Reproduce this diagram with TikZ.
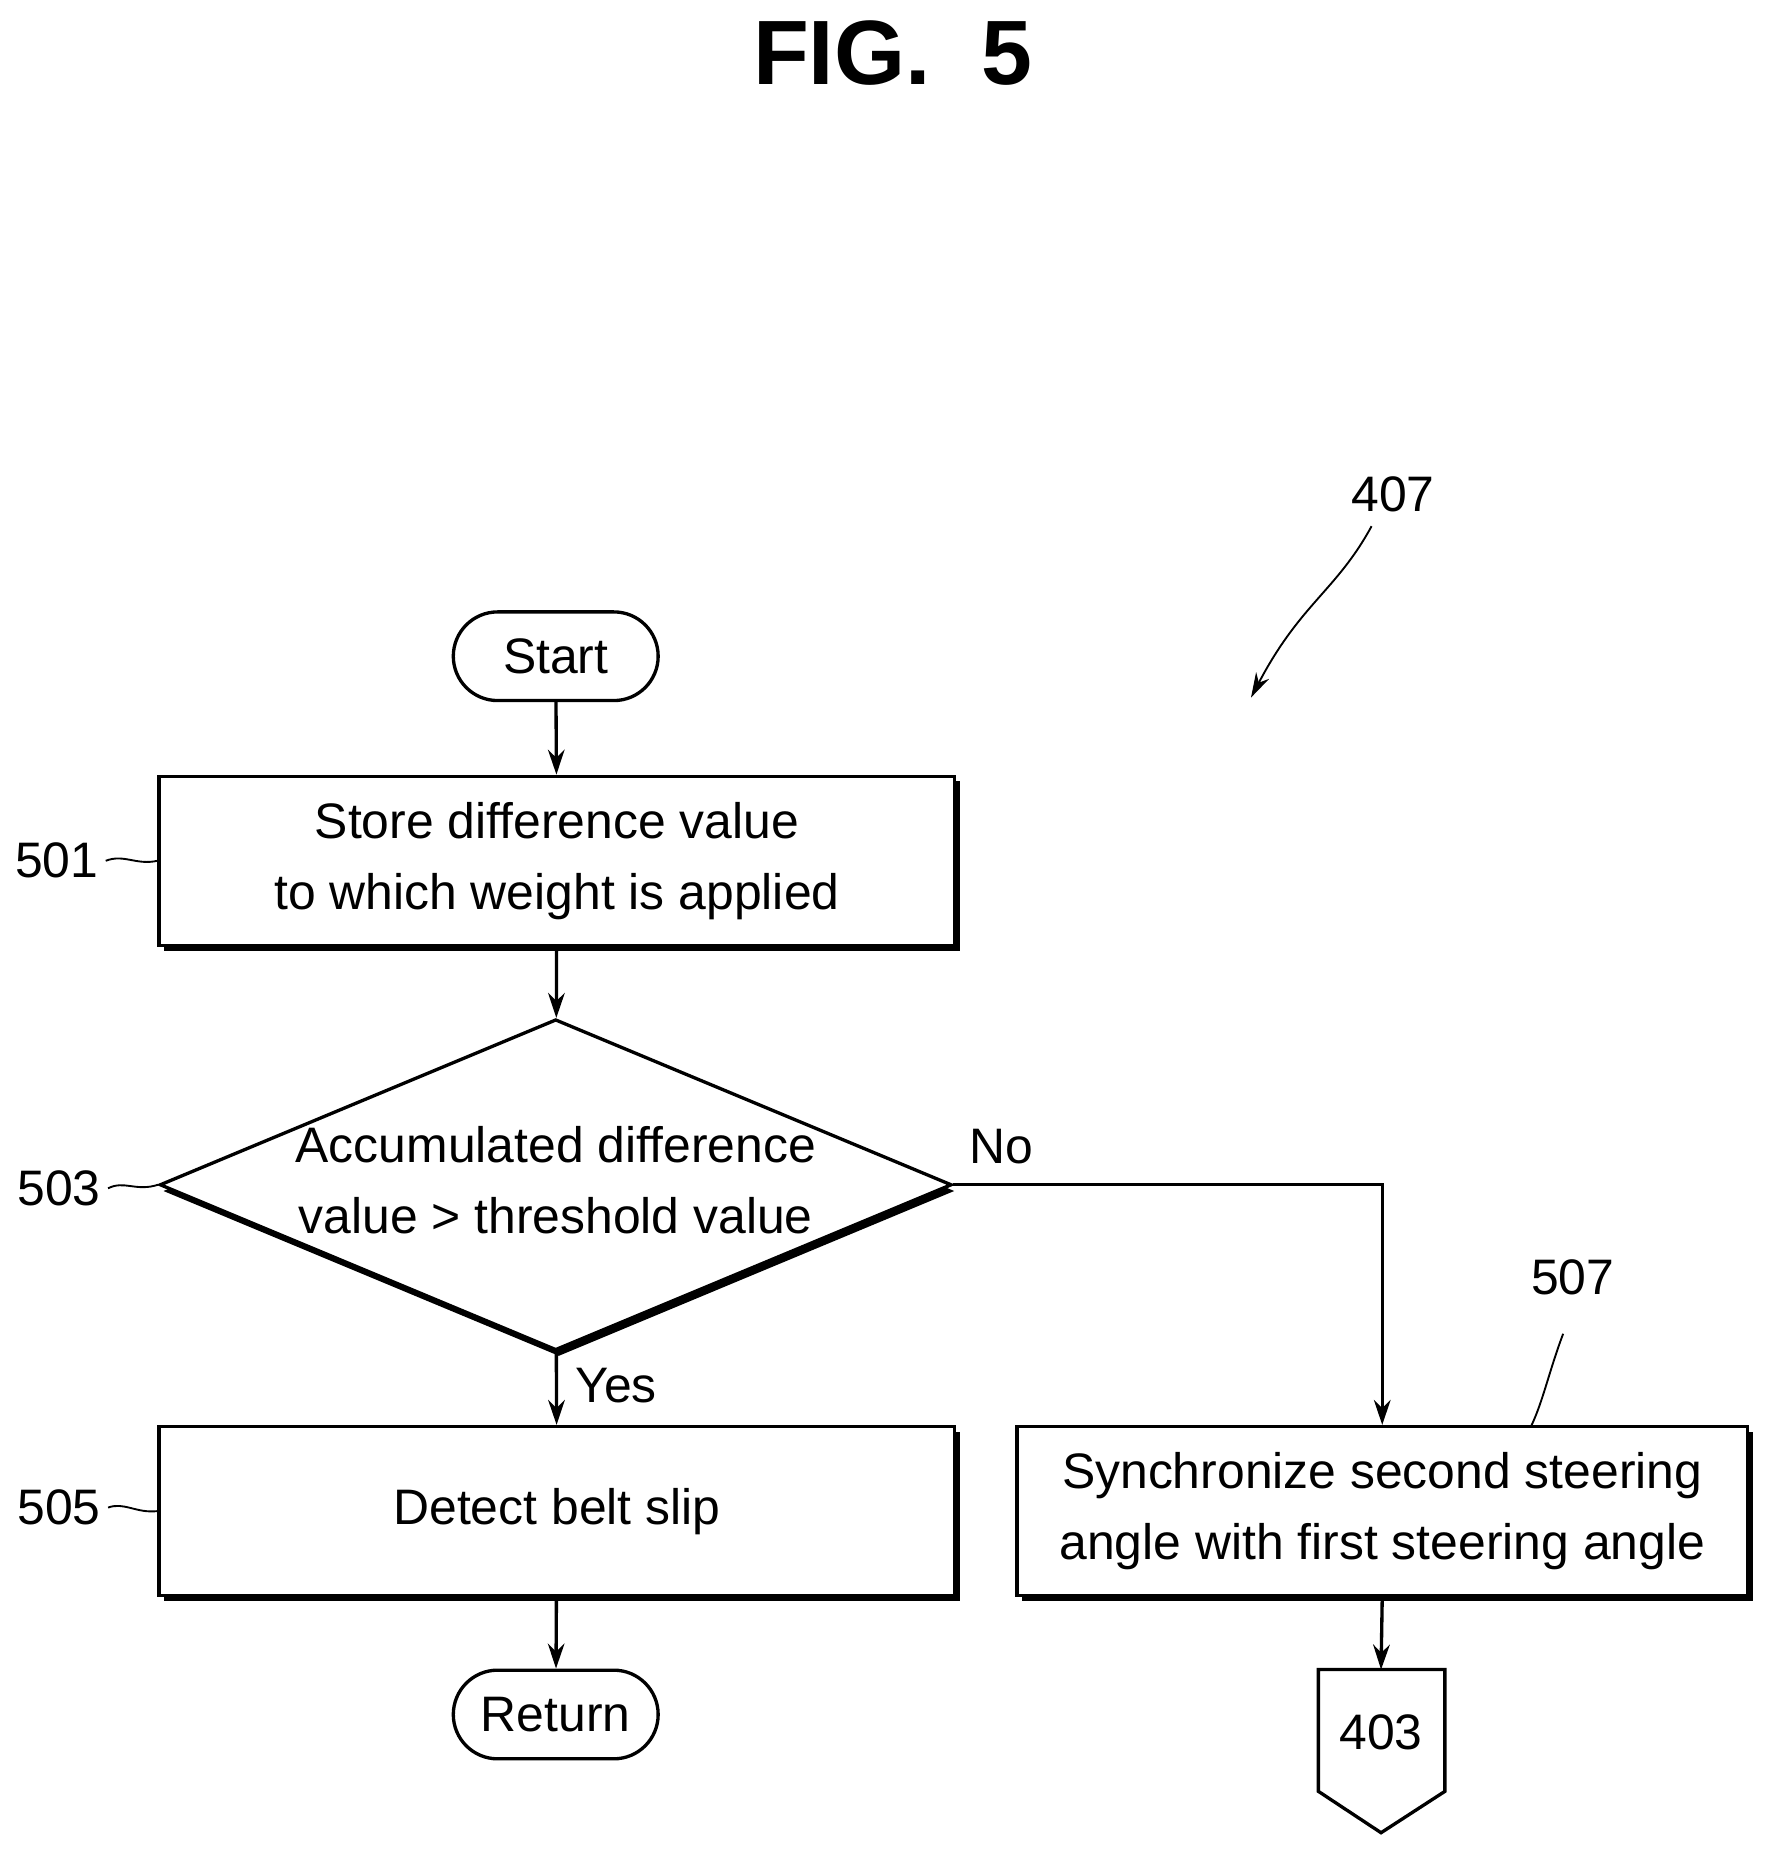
\documentclass[tikz,border=0pt]{standalone}
\usepackage{fontspec}
\setmainfont{Liberation Sans}
\usetikzlibrary{shapes.geometric,shadows,arrows.meta}
\tikzset{
  box/.style={draw,line width=1.6pt,minimum width=13.46cm,minimum height=2.86cm,align=center,
    drop shadow={shadow xshift=2.5pt,shadow yshift=-2.5pt,fill=black,opacity=1},fill=white},
  term/.style={draw,line width=1.6pt,rounded rectangle,minimum width=3.7cm,minimum height=1.5cm},
  flow/.style={line width=1.6pt,-{Stealth[length=12pt,width=8pt]}},
  lead/.style={line width=0.9pt},
  txt/.style={font=\fontsize{24}{34}\selectfont}
}
\usetikzlibrary{shapes.misc}
\begin{document}
\begin{tikzpicture}[x=0.02cm,y=-0.02cm,txt]
\useasboundingbox (0,0) rectangle (1500,1568);
\node[font=\rmfamily\bfseries\fontsize{44}{50}\selectfont] (fig) at (755,45) {FIG.\ \ 5};
% boxes
\node[term] (start) at (470,555) {Start};
\node[box] (s501) at (471,728) {Store difference value\\to which weight is applied};
\node[draw,diamond,line width=1.6pt,minimum width=13.4cm,minimum height=5.6cm,inner sep=0pt,
  drop shadow={shadow xshift=1.5pt,shadow yshift=-3pt,fill=black,opacity=1},fill=white] (s503) at (470,1002) {};
\node[align=center] (t503) at (470,998) {Accumulated difference\\value > threshold value};
\node[box] (s505) at (471,1278) {Detect belt slip};
\node[term] (ret) at (470,1450) {Return};
\node[box,minimum width=12.36cm] (s507) at (1169,1278) {Synchronize second steering\\angle with first steering angle};
\draw[line width=1.6pt] (1115,1412) -- (1222,1412) -- (1222,1515) -- (1168,1550) -- (1115,1515) -- cycle;
\node (p403) at (1168,1465) {403};
% arrows
\draw[flow] (start) -- (s501);
\draw[flow] (s501) -- (s503);
\draw[flow] (s503) -- (s505);
\draw[flow] (s505) -- (ret);
\draw[flow] (s503.east) -| (s507.north);
\draw[flow] (s507.south) -- (1168,1412);
\node (no) at (847,970) {No};
\node (yes) at (521,1172) {Yes};
% reference labels
\node (l501) at (48,728) {501};
\node (l503) at (50,1005) {503};
\node (l505) at (50,1275) {505};
\node (l507) at (1330,1080) {507};
\node (l407) at (1178,418) {407};
\draw[lead] (l501.east) .. controls (105,722) and (115,732) .. (s501.west);
\draw[lead] (l503.east) .. controls (105,998) and (115,1008) .. (s503.west);
\draw[lead] (l505.east) .. controls (105,1270) and (115,1280) .. (s505.west);
\draw[lead] (1322,1128) .. controls (1310,1160) and (1305,1185) .. (1295,1206);
\draw[lead,-{Stealth[length=12pt,width=7pt]}] (1160,445) .. controls (1130,500) and (1100,510) .. (1058,590);
\end{tikzpicture}
\end{document}
